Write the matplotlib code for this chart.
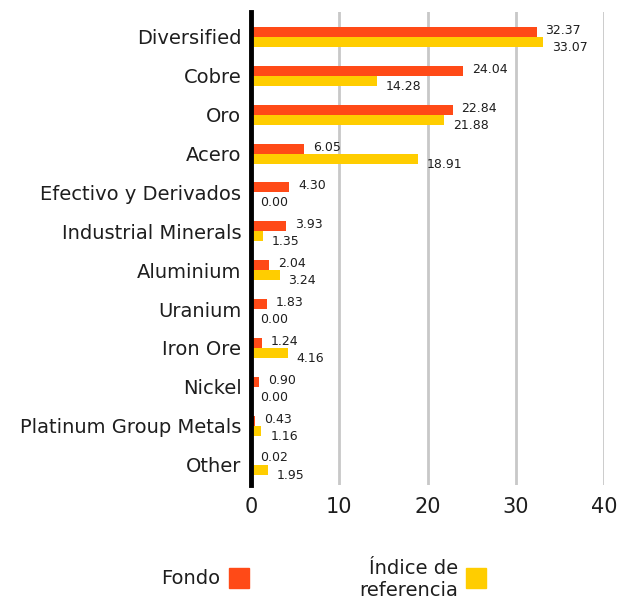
import matplotlib.pyplot as plt
import matplotlib.patches as mpatches
import numpy as np

categories = ["Diversified", "Cobre", "Oro", "Acero", "Efectivo y Derivados",
              "Industrial Minerals", "Aluminium", "Uranium", "Iron Ore", "Nickel",
              "Platinum Group Metals", "Other"]
fondo = [32.37, 24.04, 22.84, 6.05, 4.30, 3.93, 2.04, 1.83, 1.24, 0.90, 0.43, 0.02]
indice = [33.07, 14.28, 21.88, 18.91, 0.00, 1.35, 3.24, 0.00, 4.16, 0.00, 1.16, 1.95]

RED = "#FF4A17"
YELLOW = "#FFCD00"
FONT = "DejaVu Sans"
TXT = "#1e1e1e"

fig = plt.figure(figsize=(6.17, 6.06), dpi=100)
ax = fig.add_axes([0.407, 0.200, 0.572, 0.780])

y = np.arange(len(categories))
h = 0.26
ax.barh(y - h / 2, fondo, height=h, color=RED, zorder=3)
ax.barh(y + h / 2, indice, height=h, color=YELLOW, zorder=3)

for i in range(len(categories)):
    ax.text(fondo[i] + 1.0, y[i] - 0.17, "%.2f" % fondo[i], va="center", ha="left",
            fontsize=9, family=FONT, color=TXT)
    ax.text(indice[i] + 1.0, y[i] + 0.27, "%.2f" % indice[i], va="center", ha="left",
            fontsize=9, family=FONT, color=TXT)

ax.set_xlim(0, 40)
ax.set_ylim(11.52, -0.64)
ax.set_xticks([0, 10, 20, 30, 40])
ax.set_yticks(y)
ax.set_yticklabels(categories, family=FONT, fontsize=14, color=TXT)
for lbl in ax.get_xticklabels():
    lbl.set_family(FONT)
    lbl.set_fontsize(15)
    lbl.set_color(TXT)
ax.tick_params(axis="y", length=0, pad=7)
ax.tick_params(axis="x", length=0, pad=9)
ax.grid(axis="x", color="#c8c8c8", linewidth=2, zorder=0)
for s in ["top", "right", "bottom"]:
    ax.spines[s].set_visible(False)
ax.spines["left"].set_linewidth(3.5)
ax.spines["left"].set_color("black")
ax.spines["left"].set_zorder(5)

# legend at the bottom
fig.text(220 / 617, 1 - 579 / 606, "Fondo", ha="right", va="center",
         fontsize=14, family=FONT, color=TXT)
fig.patches.append(mpatches.Rectangle((229 / 617, 1 - 588 / 606), 20 / 617, 20 / 606,
                                      transform=fig.transFigure, color=RED))
fig.text(458 / 617, 1 - 579 / 606, "Índice de\nreferencia", ha="right", va="center",
         fontsize=14, family=FONT, color=TXT, linespacing=1.2)
fig.patches.append(mpatches.Rectangle((466 / 617, 1 - 588 / 606), 20 / 617, 20 / 606,
                                      transform=fig.transFigure, color=YELLOW))

fig.savefig("out.png", dpi=100)
